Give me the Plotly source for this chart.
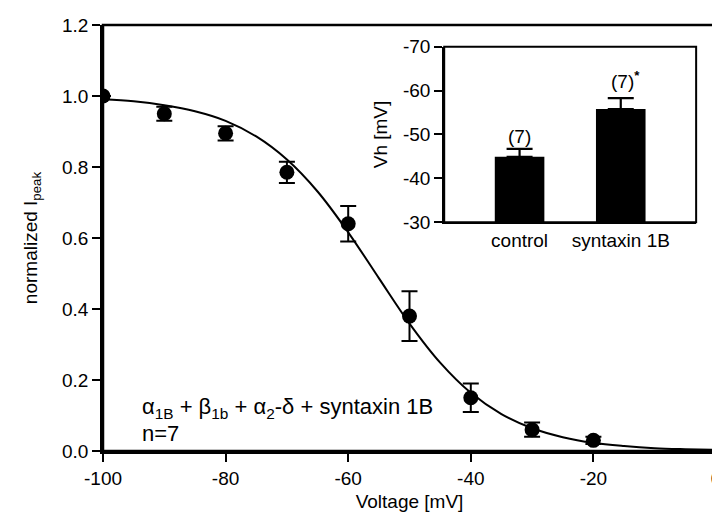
import plotly.graph_objects as go

# ---- data ----
voltage = [-100, -90, -80, -70, -60, -50, -40, -30, -20]
ipeak = [1.0, 0.95, 0.895, 0.785, 0.64, 0.38, 0.15, 0.06, 0.03]
ipeak_err = [0.0, 0.02, 0.02, 0.03, 0.05, 0.07, 0.04, 0.02, 0.01]

fit_v = [-100, -95, -90, -85, -80, -75, -70, -65, -60, -55, -50, -45, -40,
         -35, -30, -25, -20, -15, -10, -5, 0]
fit_i = [0.991, 0.985, 0.974, 0.957, 0.930, 0.886, 0.821, 0.731, 0.616, 0.487,
         0.359, 0.249, 0.164, 0.104, 0.064, 0.039, 0.023, 0.014, 0.008, 0.005, 0.003]

x_ticks = [-100, -80, -60, -40, -20, 0]
x_ticktext = ["-100", "-80", "-60", "-40", "-20", "0"]
y_ticks = [0, 0.2, 0.4, 0.6, 0.8, 1.0, 1.2]
y_ticktext = ["0.0", "0.2", "0.4", "0.6", "0.8", "1.0", "1.2"]

groups = ["control", "syntaxin 1B"]
vh = [-44.9, -55.8]
vh_err = [1.8, 2.5]
n_labels = ["(7)", "(7)<sup><b>*</b></sup>"]
vh_ticks = [-30, -40, -50, -60, -70]
vh_ticktext = ["-30", "-40", "-50", "-60", "-70"]

FONT = "Liberation Sans, Arial, sans-serif"
FS = 19

fig = go.Figure()

fig.add_trace(go.Scatter(
    x=fit_v, y=fit_i, mode="lines", line=dict(color="black", width=2, shape="spline"),
    xaxis="x", yaxis="y", showlegend=False, hoverinfo="skip"))

fig.add_trace(go.Scatter(
    x=voltage, y=ipeak, mode="markers",
    marker=dict(color="black", size=15, symbol="circle"),
    error_y=dict(type="data", array=ipeak_err, color="black", thickness=2, width=8),
    xaxis="x", yaxis="y", showlegend=False))

fig.add_trace(go.Bar(
    x=[0, 1], y=vh, width=0.49, marker=dict(color="black", line=dict(width=0)),
    error_y=dict(type="data", array=[0, 0], arrayminus=vh_err, symmetric=False,
                 color="black", thickness=2.2, width=13),
    xaxis="x2", yaxis="y2", showlegend=False))

fig.update_layout(
    width=720, height=518,
    margin=dict(l=95, r=7, t=11, b=75),
    paper_bgcolor="white", plot_bgcolor="white",
    font=dict(family=FONT, color="black", size=FS),
    xaxis=dict(domain=[0, 1], range=[-100, 0], tickvals=x_ticks, ticktext=x_ticktext,
               ticks="outside", ticklen=8, tickwidth=2, tickcolor="black",
               showline=True, linecolor="black", linewidth=2.5, showgrid=False, zeroline=False,
               tickfont=dict(size=FS), ticklabeloverflow="allow",
               title=dict(text="Voltage [mV]", font=dict(size=FS), standoff=8)),
    yaxis=dict(domain=[0, 1], range=[0, 1.2], tickvals=y_ticks, ticktext=y_ticktext,
               ticks="outside", ticklen=8, tickwidth=2, tickcolor="black",
               showline=True, linecolor="black", linewidth=2.5, showgrid=False, zeroline=False,
               tickfont=dict(size=FS), ticklabeloverflow="allow",
               title=dict(text="normalized I<sub>peak</sub>", font=dict(size=FS), standoff=20)),
    xaxis2=dict(domain=[0.5566, 0.9676], range=[-0.745, 1.745], anchor="y2",
                tickvals=[0, 1], ticktext=groups, ticks="", showline=True,
                linecolor="black", linewidth=2, showgrid=False, zeroline=False,
                tickfont=dict(size=FS)),
    yaxis2=dict(domain=[0.537, 0.949], range=[-30, -70], anchor="x2",
                tickvals=vh_ticks, ticktext=vh_ticktext, ticks="outside", ticklen=8,
                tickwidth=2, tickcolor="black", showline=True, linecolor="black",
                linewidth=2, showgrid=False, zeroline=False, tickfont=dict(size=FS),
                title=dict(text="Vh [mV]", font=dict(size=FS), standoff=10)),
    shapes=[
        dict(type="rect", xref="x domain", yref="y domain", x0=0, x1=1, y0=0, y1=1,
             line=dict(color="black", width=2.5), layer="above"),
        dict(type="rect", xref="x2 domain", yref="y2 domain", x0=0, x1=1, y0=0, y1=1,
             line=dict(color="black", width=2), layer="above"),
    ],
    annotations=[
        dict(x=-93.9, y=0.12, xref="x", yref="y", xanchor="left", yanchor="middle",
             text="α<sub>1B</sub> + β<sub>1b</sub> + α<sub>2</sub>-δ + syntaxin 1B",
             showarrow=False, font=dict(size=22)),
        dict(x=-93.9, y=0.05, xref="x", yref="y", xanchor="left", yanchor="middle",
             text="n=7", showarrow=False, font=dict(size=22)),
        dict(x=0, y=-49.6, xref="x2", yref="y2", text=n_labels[0], showarrow=False,
             font=dict(size=FS)),
        dict(x=1, y=-62.5, xref="x2", yref="y2", text=n_labels[1], showarrow=False,
             font=dict(size=FS), xshift=5),
    ],
)

fig.write_html("out.html")
